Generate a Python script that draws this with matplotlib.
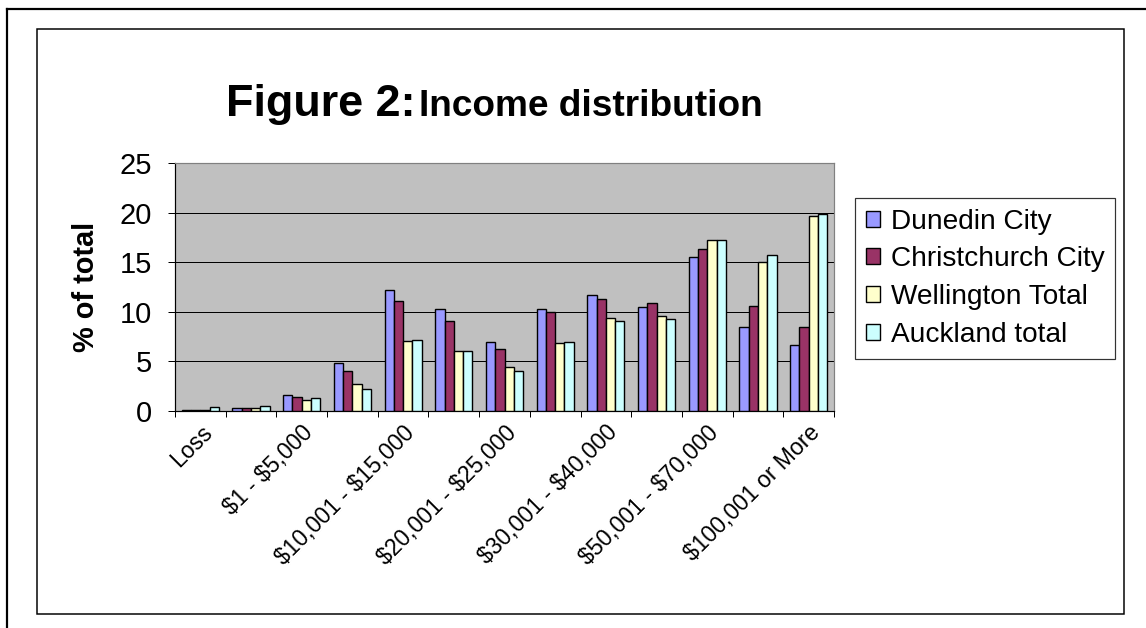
import matplotlib
matplotlib.use("Agg")
import matplotlib.pyplot as plt
import numpy as np
from matplotlib.lines import Line2D
from matplotlib.patches import Rectangle

categories = ["Loss", "Zero Income", "$1 - $5,000", "$5,001 - $10,000", "$10,001 - $15,000",
              "$15,001 - $20,000", "$20,001 - $25,000", "$25,001 - $30,000", "$30,001 - $40,000",
              "$40,001 - $50,000", "$50,001 - $70,000", "$70,001 - $100,000", "$100,001 or More"]
series_names = ["Dunedin City", "Christchurch City", "Wellington Total", "Auckland total"]
dunedin = [0.12, 0.34, 1.61, 4.8, 12.2, 10.3, 7.0, 10.3, 11.66, 10.52, 15.52, 8.5, 6.62]
christchurch = [0.12, 0.34, 1.44, 4.07, 11.09, 9.04, 6.28, 9.95, 11.26, 10.89, 16.3, 10.55, 8.5]
wellington = [0.12, 0.3, 1.08, 2.72, 7.02, 6.08, 4.4, 6.82, 9.41, 9.61, 17.24, 14.99, 19.62]
auckland = [0.37, 0.47, 1.28, 2.22, 7.19, 6.08, 4.07, 6.99, 9.04, 9.24, 17.24, 15.73, 19.83]
colors = ["#9999FF", "#993366", "#FFFFCC", "#CCFFFF"]
yticks = [0, 5, 10, 15, 20, 25]

plt.rcParams['text.parse_math'] = False
plt.rcParams['font.family'] = ['Liberation Sans', 'DejaVu Sans']

W, H = 1146, 628
fig = plt.figure(figsize=(W / 72, H / 72), dpi=72)

def fx(px):
    return px / W
def fy(py):
    return 1 - py / H

# outer frame lines
fig.add_artist(Line2D([fx(7), 1.0], [fy(9), fy(9)], color="black", lw=2.2))
fig.add_artist(Line2D([fx(7), fx(7)], [fy(9), 0.0], color="black", lw=2.2))
# inner chart frame
fig.add_artist(Rectangle((fx(37), fy(614)), fx(1124) - fx(37), fy(29) - fy(614),
                         fill=False, edgecolor="black", lw=1.5, transform=fig.transFigure))

L, R, T, B = 175, 834, 163, 411
ax = fig.add_axes([fx(L), fy(B), fx(R) - fx(L), fy(T) - fy(B)])
ax.set_facecolor("#C0C0C0")

data = [dunedin, christchurch, wellington, auckland]
n = len(categories)
x = np.arange(n)
bw = 0.183
for i, (vals, c, name) in enumerate(zip(data, colors, series_names)):
    ax.bar(x + (i - 1.5) * bw, vals, width=bw, color=c, edgecolor="black", linewidth=1.4,
           label=name, zorder=3)

ax.set_xlim(-0.5, n - 0.5)
ax.set_ylim(0, 25)
ax.set_yticks(yticks)
ax.set_yticklabels([str(v) for v in yticks], fontsize=29)
ax.yaxis.grid(True, color="black", lw=1.0, zorder=0)
ax.set_axisbelow(True)
ax.tick_params(axis="y", direction="out", length=7, width=1, pad=16)

ax.set_xticks(np.arange(-0.5, n, 1.0))
ax.set_xticklabels([])
ax.tick_params(axis="x", direction="out", length=6, width=1)
ax.set_xticks(x[::2], minor=True)
ax.set_xticklabels(categories[::2], minor=True, rotation=45, ha="right", va="top",
                   rotation_mode="anchor", fontsize=23)
ax.tick_params(axis="x", which="minor", length=0, pad=10)

for s in ["top", "right"]:
    ax.spines[s].set_color("#808080")
    ax.spines[s].set_linewidth(1.2)
for s in ["left", "bottom"]:
    ax.spines[s].set_color("black")
    ax.spines[s].set_linewidth(1.2)

ax.set_ylabel("% of total", fontsize=29, fontweight="bold", labelpad=20)

leg = fig.legend(loc="upper left", bbox_to_anchor=(fx(855), fy(198)), frameon=True,
                 fontsize=28, handlelength=0.5, handleheight=0.5, handletextpad=0.4,
                 borderpad=0.38, labelspacing=0.42, fancybox=False, borderaxespad=0)
leg.get_frame().set_edgecolor("black")
leg.get_frame().set_linewidth(1.2)

fig.text(fx(416), fy(116), "Figure 2:", fontsize=45, fontweight="bold", ha="right",
         va="baseline")
fig.text(fx(419), fy(116), "Income distribution", fontsize=37, fontweight="bold", ha="left",
         va="baseline")

fig.savefig("out.png", dpi=72)
